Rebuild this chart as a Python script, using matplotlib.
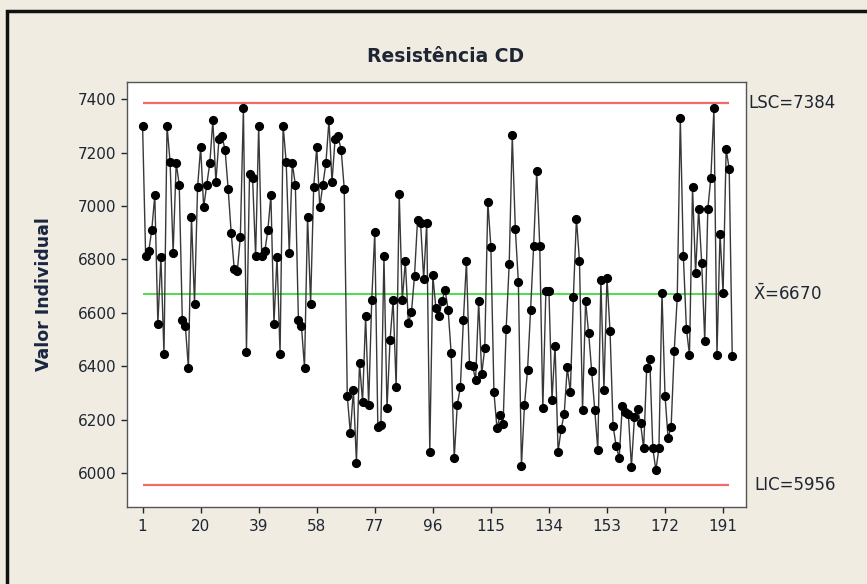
import matplotlib.pyplot as plt

# valores individuais (resistência CD)
bloco_a = [7300, 6812, 6830, 6910, 7040, 6560, 6810, 6445, 7300, 7165,
           6826, 7160, 7080, 6575, 6550, 6395, 6960, 6635, 7070, 7220,
           6995, 7080, 7160, 7320, 7090, 7250, 7260, 7210, 7065, 6900,
           6765, 6755, 6885, 7365, 6455, 7120, 7105, 6812]
bloco_b = bloco_a[:29]
bloco_c = [6290, 6150, 6312, 6040, 6412, 6268, 6587, 6256, 6647, 6902,
           6175, 6180, 6812, 6243, 6499, 6647, 6321, 7043, 6647, 6793,
           6562, 6602, 6739, 6949, 6935, 6727, 6937, 6081, 6740, 6618]
bloco_d = [6590, 6643, 6687, 6612, 6450, 6056, 6256, 6321, 6572, 6793,
           6406, 6402, 6350, 6643, 6372, 6468, 7016, 6847, 6303, 6168,
           6218, 6185, 6540, 6784, 7264, 6914, 6714, 6027, 6256, 6387,
           6612, 6852, 7130, 6850]
bloco_e = [6243, 6681, 6681, 6275, 6477, 6081, 6165, 6222, 6397, 6303,
           6659, 6953, 6793, 6237, 6643, 6524, 6381, 6237, 6087, 6722,
           6313, 6731, 6531, 6177, 6102, 6058, 6252, 6231, 6220, 6025,
           6210]
bloco_f = [6241, 6187, 6093, 6393, 6427, 6093, 6012, 6093, 6675, 6290,
           6131, 6175, 6456, 6659, 7330, 6812, 6540, 6443, 7070, 6749,
           6989, 6787, 6496, 6989, 7106, 7365, 6443, 6897, 6675, 7212,
           7139, 6437]

valores = bloco_a + bloco_b + bloco_c + bloco_d + bloco_e + bloco_f
obs = list(range(1, len(valores) + 1))

lsc = 7384
media = 6670
lic = 5956

y_ticks = [6000, 6200, 6400, 6600, 6800, 7000, 7200, 7400]
x_ticks = [1, 20, 39, 58, 77, 96, 115, 134, 153, 172, 191]

fundo = '#f0ece2'
texto = '#1e2533'

fig = plt.figure(figsize=(8.67, 5.84), dpi=100)
fig.patch.set_facecolor(fundo)

# moldura preta à volta da figura
fig.add_artist(plt.Rectangle((7 / 867, -0.05), 1.0, 1 - 11 / 584 + 0.05,
                             transform=fig.transFigure, fill=False,
                             edgecolor='#111111', linewidth=2.5))

ax = fig.add_axes([127 / 867, 1 - 506.7 / 584, 619 / 867, 425 / 584])
ax.set_facecolor('white')

ax.hlines([lsc, lic], 1, len(valores) - 1, colors='#f06a6a', linewidth=1.6)
ax.hlines(media, 1, len(valores) - 1, colors='#3fdc3f', linewidth=1.3)

ax.plot(obs, valores, color='#383838', linewidth=1.0,
        marker='o', markersize=5.6, markerfacecolor='black',
        markeredgecolor='black')

ax.set_xlim(-4.1, 198.5)
ax.set_ylim(5875, 7465)
ax.set_xticks(x_ticks)
ax.set_yticks(y_ticks)
ax.tick_params(labelsize=11, colors=texto, length=4, width=1)
ax.tick_params(axis='x', pad=5)

for s in ax.spines.values():
    s.set_color('#555555')
    s.set_linewidth(1)

ax.set_title('Resistência CD', fontsize=13.5, fontweight='bold',
             color=texto, pad=14, x=0.5145)
ax.set_ylabel('Valor Individual', fontsize=12.5, fontweight='bold',
              color='#1a2540', labelpad=18)

# rótulos dos limites à direita
rot = ax.get_yaxis_transform()
ax.text(1.004, lsc, 'LSC=7384', transform=rot,
        fontsize=12, color=texto, va='center')
ax.text(1.011, media, r'$\bar{\mathrm{X}}$=6670', transform=rot,
        fontsize=12, color=texto, va='center')
ax.text(1.014, lic, 'LIC=5956', transform=rot,
        fontsize=12, color=texto, va='center')

plt.savefig('out.png', dpi=100, facecolor=fundo)
